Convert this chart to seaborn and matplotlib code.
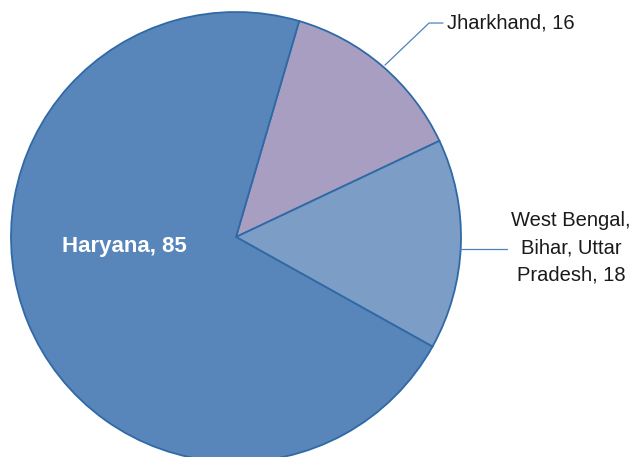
import matplotlib
matplotlib.use("Agg")
import matplotlib.pyplot as plt
import seaborn as sns

# données
regions = ["Jharkhand", "West Bengal,\nBihar, Uttar\nPradesh", "Haryana"]
counts = [16, 18, 85]
colors = ["#A89EC2", "#7B9DC6", "#5886BA"]

sns.set_theme(style="white")
plt.rcParams['font.family'] = ['Liberation Sans', 'DejaVu Sans']

fig = plt.figure(figsize=(6.32, 4.57), dpi=100)
# pie centre ~ (236, 237) px, rayon ~225 px
ax = fig.add_axes([(236 - 225) / 632, (457 - 237 - 225) / 457, 450 / 632, 450 / 457])

ax.pie(counts, colors=colors, startangle=73.7, counterclock=False, radius=1,
       wedgeprops=dict(edgecolor="#2F69A6", linewidth=1.3))
ax.set_xlim(-1, 1)
ax.set_ylim(-1, 1)
ax.set_aspect("equal")

line_col = "#4F81BD"

# Jharkhand
ax.plot([0.662, 0.858, 0.92], [0.764, 0.951, 0.951], color=line_col, lw=0.9, clip_on=False)
ax.text(0.938, 0.951, f"{regions[0]}, {counts[0]}", ha="left", va="center",
        fontsize=14.5, color="#1a1a1a")

# West Bengal, Bihar, Uttar Pradesh
ax.plot([0.996, 1.204], [-0.053, -0.053], color=line_col, lw=0.9, clip_on=False)
ax.text(1.489, -0.049, f"{regions[1]}, {counts[1]}", ha="center", va="center",
        fontsize=14.5, color="#1a1a1a", linespacing=1.55, multialignment="center")

# Haryana
ax.text(-0.498, -0.044, f"{regions[2]}, {counts[2]}", ha="center", va="center",
        fontsize=16, fontweight="bold", color="white")

fig.savefig("out.png", dpi=100)
